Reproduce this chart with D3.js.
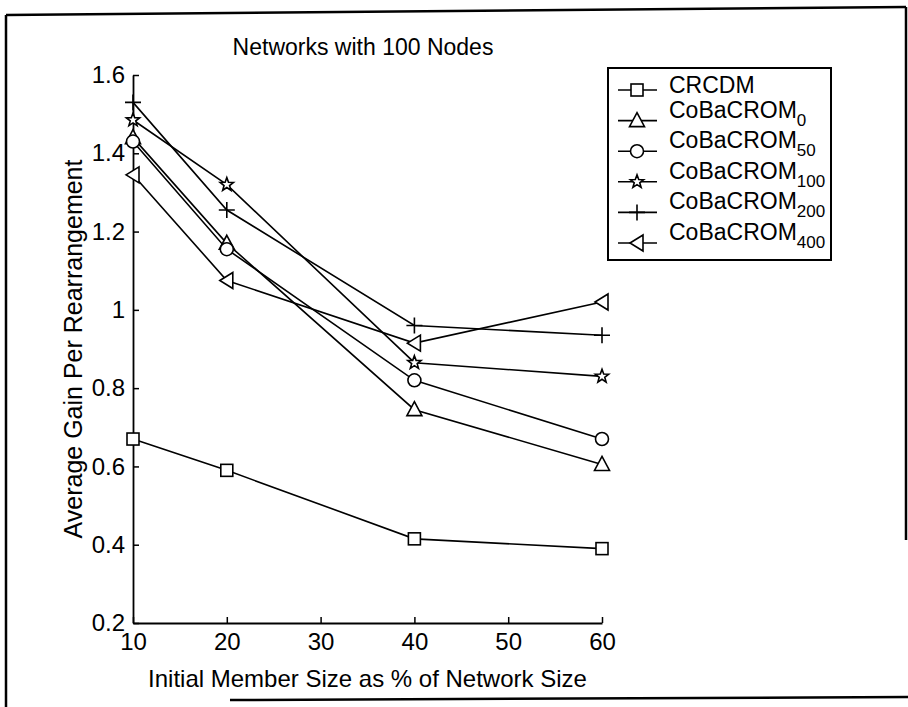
<!DOCTYPE html>
<html>
<head>
<meta charset="utf-8">
<script src="https://cdn.jsdelivr.net/npm/d3@7"></script>
<style>
  html, body { margin: 0; padding: 0; background: #fff; }
  svg { display: block; font-family: "Liberation Sans", Arial, sans-serif; }
</style>
</head>
<body>
<svg id="chart" width="908" height="707"></svg>
<script>
// Initial member size (% of network size)
const memberSizes = [10, 20, 40, 60];

// Average gain per rearrangement for each protocol
const crcdm        = [0.67, 0.59, 0.415, 0.39];
const cobacrom0    = [1.44, 1.17, 0.745, 0.605];
const cobacrom50   = [1.43, 1.155, 0.82, 0.67];
const cobacrom100  = [1.485, 1.32, 0.865, 0.83];
const cobacrom200  = [1.53, 1.255, 0.96, 0.935];
const cobacrom400  = [1.345, 1.075, 0.915, 1.02];

// Legend names: base text and subscript
const seriesNames = ["CRCDM", "CoBaCROM", "CoBaCROM", "CoBaCROM", "CoBaCROM", "CoBaCROM"];
const seriesSubs  = ["", "0", "50", "100", "200", "400"];
const seriesMarkers = ["square", "triangleUp", "circle", "star", "plus", "triangleLeft"];

// Axis ticks
const xTickValues = [10, 20, 30, 40, 50, 60];
const yTickValues = [0.2, 0.4, 0.6, 0.8, 1.0, 1.2, 1.4, 1.6];
const yTickLabels = ["0.2", "0.4", "0.6", "0.8", "1", "1.2", "1.4", "1.6"];

const titleText = "Networks with 100 Nodes";
const xTitle = "Initial Member Size as % of Network Size";
const yTitle = "Average Gain Per Rearrangement";

const seriesValues = [crcdm, cobacrom0, cobacrom50, cobacrom100, cobacrom200, cobacrom400];

const svg = d3.select("#chart");

// Scanned page border
const page = svg.append("g").attr("fill", "none").attr("stroke", "#000");
page.append("line").attr("x1", 6).attr("y1", 15).attr("x2", 906).attr("y2", 7).attr("stroke-width", 2.5);
page.append("line").attr("x1", 6).attr("y1", 15).attr("x2", 6).attr("y2", 707).attr("stroke-width", 2.5);
page.append("line").attr("x1", 906).attr("y1", 7).attr("x2", 906).attr("y2", 540).attr("stroke-width", 2.5);
page.append("line").attr("x1", 230).attr("y1", 700).attr("x2", 908).attr("y2", 697).attr("stroke-width", 2.5);

// Plot area
const x = d3.scaleLinear().domain([10, 60]).range([133, 602]);
const y = d3.scaleLinear().domain([0.2, 1.6]).range([623, 75]);

const fontSize = 24;

const xAxis = d3.axisBottom(x)
  .tickValues(xTickValues)
  .tickFormat(d3.format("d"))
  .tickSizeInner(-6)
  .tickSizeOuter(0)
  .tickPadding(10);

const yAxis = d3.axisLeft(y)
  .tickValues(yTickValues)
  .tickFormat((d, i) => yTickLabels[i])
  .tickSizeInner(-6)
  .tickSizeOuter(0)
  .tickPadding(8);

const gx = svg.append("g").attr("transform", `translate(0,${y(0.2)})`).call(xAxis);
const gy = svg.append("g").attr("transform", `translate(${x(10)},0)`).call(yAxis);

[gx, gy].forEach(g => {
  g.select(".domain").attr("stroke", "#000").attr("stroke-width", 1.8);
  g.selectAll(".tick line").attr("stroke", "#000").attr("stroke-width", 1.5);
  g.selectAll(".tick text")
    .attr("fill", "#000")
    .attr("font-size", fontSize)
    .attr("font-family", "\"Liberation Sans\", Arial, sans-serif");
});

// Titles
svg.append("text")
  .attr("x", 363).attr("y", 55)
  .attr("text-anchor", "middle")
  .attr("font-size", 23)
  .text(titleText);

svg.append("text")
  .attr("x", (x(10) + x(60)) / 2 + 0).attr("y", 687)
  .attr("text-anchor", "middle")
  .attr("font-size", fontSize)
  .text(xTitle);

svg.append("text")
  .attr("transform", `translate(82,${(y(0.2) + y(1.6)) / 2}) rotate(-90)`)
  .attr("text-anchor", "middle")
  .attr("font-size", 25)
  .text(yTitle);

// Marker shapes
function drawMarker(g, type, cx, cy) {
  const s = g.append("g").attr("transform", `translate(${cx},${cy})`)
    .attr("fill", "#fff").attr("stroke", "#000").attr("stroke-width", 1.6);
  if (type === "square") {
    s.append("rect").attr("x", -6).attr("y", -6).attr("width", 12).attr("height", 12);
  } else if (type === "triangleUp") {
    s.append("path").attr("d", "M0,-8L7.5,6L-7.5,6Z");
  } else if (type === "circle") {
    s.append("circle").attr("r", 6.5);
  } else if (type === "star") {
    const pts = [];
    for (let k = 0; k < 10; k++) {
      const r = k % 2 === 0 ? 7 : 2.9;
      const a = -Math.PI / 2 + k * Math.PI / 5;
      pts.push([r * Math.cos(a), r * Math.sin(a)]);
    }
    s.append("path").attr("d", "M" + pts.map(p => p.join(",")).join("L") + "Z");
  } else if (type === "plus") {
    s.append("path").attr("fill", "none").attr("d", "M-8,0H8M0,-8V8");
  } else if (type === "triangleLeft") {
    s.append("path").attr("d", "M-7,0L6,-8L6,8Z");
  }
}

// Series lines and markers
const line = d3.line().x((d, i) => x(memberSizes[i])).y(d => y(d));
const plot = svg.append("g");
seriesValues.forEach((vals, si) => {
  plot.append("path")
    .datum(vals)
    .attr("fill", "none")
    .attr("stroke", "#000")
    .attr("stroke-width", 1.6)
    .attr("d", line);
});
seriesValues.forEach((vals, si) => {
  vals.forEach((v, i) => drawMarker(plot, seriesMarkers[si], x(memberSizes[i]), y(v)));
});

// Legend
const legend = svg.append("g");
legend.append("rect")
  .attr("x", 608).attr("y", 68).attr("width", 223).attr("height", 192)
  .attr("fill", "#fff").attr("stroke", "#000").attr("stroke-width", 2);

const rowY = d3.scalePoint().domain(d3.range(seriesNames.length)).range([90, 243]);
seriesNames.forEach((name, i) => {
  const ry = rowY(i);
  legend.append("line")
    .attr("x1", 618).attr("x2", 657).attr("y1", ry).attr("y2", ry)
    .attr("stroke", "#000").attr("stroke-width", 1.6);
  drawMarker(legend, seriesMarkers[i], 637, ry);
  const t = legend.append("text")
    .attr("x", 669)
    .attr("y", seriesSubs[i] ? ry - 3 : ry + 3)
    .attr("font-size", 23)
    .text(name);
  if (seriesSubs[i]) {
    t.append("tspan")
      .attr("font-size", 17)
      .attr("dy", 8)
      .text(seriesSubs[i]);
  }
});
</script>
</body>
</html>
